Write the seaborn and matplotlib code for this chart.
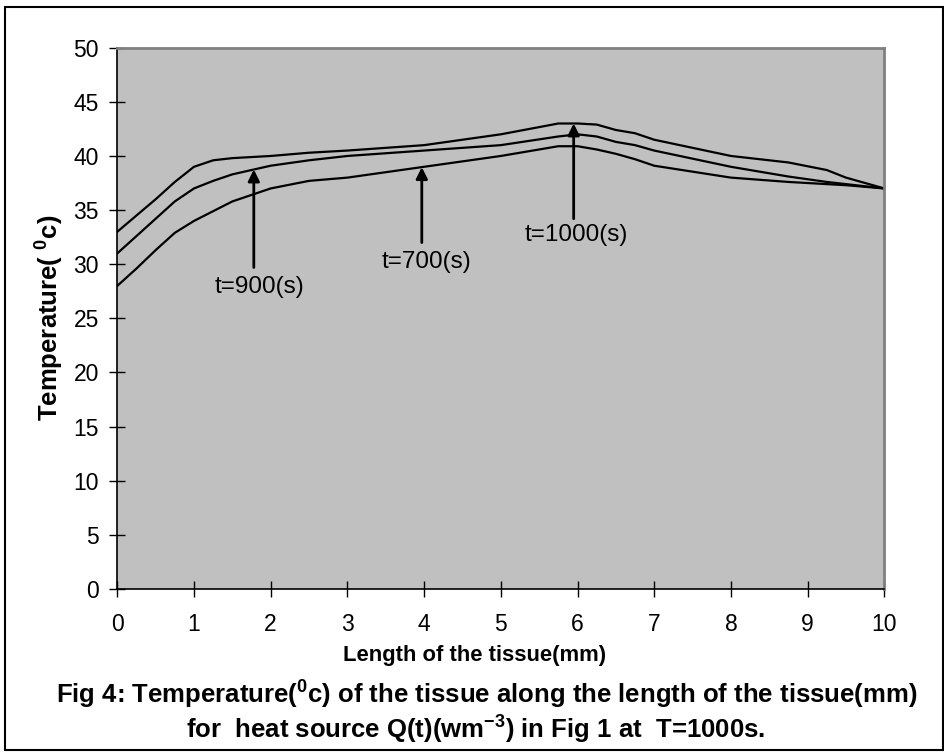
"""
Temperature of the tissue along its length for three times (Fig 4).
"""

import matplotlib

matplotlib.use("Agg")
import matplotlib.pyplot as plt
import numpy as np
import pandas as pd
import seaborn as sns
from matplotlib.patches import Rectangle

# Data
length_mm = [0, 0.25, 0.5, 0.75, 1, 1.25, 1.5, 2, 2.5, 3, 4, 5, 5.75, 6,
             6.25, 6.5, 6.75, 7, 8, 8.75, 9.25, 9.5, 10]
temp_1000s = [33.0, 34.5, 36.0, 37.6, 39.0, 39.6, 39.8, 40.0, 40.3, 40.5,
              41.0, 42.0, 43.0, 43.0, 42.9, 42.4, 42.1, 41.5, 40.0, 39.4,
              38.7, 38.0, 37.0]
temp_900s = [31.0, 32.6, 34.2, 35.8, 37.0, 37.7, 38.3, 39.1, 39.6, 40.0,
             40.5, 41.0, 41.8, 42.0, 41.8, 41.3, 41.0, 40.5, 39.0, 38.1,
             37.6, 37.4, 37.0]
temp_700s = [28.0, 29.6, 31.3, 32.9, 34.0, 34.9, 35.8, 37.0, 37.7, 38.0,
             39.0, 40.0, 40.9, 40.9, 40.6, 40.2, 39.7, 39.1, 38.0, 37.6,
             37.4, 37.3, 37.0]

series = {"1000": temp_1000s, "900": temp_900s, "700": temp_700s}

# Arrow annotations: which curve each arrow points at
arrow_labels = ["t=900(s)", "t=700(s)", "t=1000(s)"]
arrow_series = ["900", "700", "1000"]
arrow_x = [1.78, 3.97, 5.95]

df = pd.concat(
    [pd.DataFrame({"length": length_mm, "temp": vals, "time": name})
     for name, vals in series.items()],
    ignore_index=True,
)

sns.set_style("white")
plt.rcParams["font.family"] = ["Liberation Sans", "DejaVu Sans"]
plt.rcParams["mathtext.fontset"] = "custom"
plt.rcParams["mathtext.rm"] = "Liberation Sans"
plt.rcParams["mathtext.bf"] = "Liberation Sans:bold"
plt.rcParams["mathtext.default"] = "bf"
for key in ["text.color", "axes.labelcolor", "xtick.color", "ytick.color"]:
    plt.rcParams[key] = "black"

fig = plt.figure(figsize=(9.45, 7.55), dpi=100)
ax = fig.add_axes([0.1241, 0.2199, 0.8117, 0.7169])
ax.set_facecolor("#c0c0c0")

sns.lineplot(
    data=df, x="length", y="temp", units="time", estimator=None,
    sort=False, color="black", linewidth=1.6, ax=ax,
)

ax.set_xlim(0, 10)
ax.set_ylim(0, 50)
ax.set_xticks(range(0, 11))
ax.set_yticks(range(0, 51, 5))
ax.tick_params(axis="both", direction="inout", length=11.5, width=1,
               color="black", labelcolor="black", labelsize=16.5,
               bottom=True, left=True)
ax.tick_params(axis="x", pad=11.5)
ax.tick_params(axis="y", pad=7.5)

for side in ["left", "bottom"]:
    ax.spines[side].set_color("black")
    ax.spines[side].set_linewidth(1.2)
for side in ["top", "right"]:
    ax.spines[side].set_color("#808080")
    ax.spines[side].set_linewidth(2)

ax.set_xlabel("Length of the tissue(mm)", fontsize=15.8, fontweight="bold",
              va="center")
ax.xaxis.set_label_coords(0.466, -0.122)
ax.set_ylabel("Temperature( $^{0}$c)", fontsize=18.5, fontweight="bold",
              va="center")
ax.yaxis.set_label_coords(-0.088, 0.5)

# Arrows pointing at the curves
tail_y = [29.7, 32.0, 34.2]
text_xy = [(1.85, 27.9), (4.03, 30.25), (5.99, 32.7)]
for label, name, x, ty, (tx, tty) in zip(arrow_labels, arrow_series, arrow_x,
                                         tail_y, text_xy):
    tip = np.interp(x, length_mm, series[name])
    ax.annotate("", xy=(x, tip), xytext=(x, ty),
                arrowprops=dict(arrowstyle="-|>", color="black", lw=2,
                                mutation_scale=17, shrinkA=0, shrinkB=0))
    ax.text(tx, tty, label, ha="center", va="center", fontsize=17.5)

fig.text(0.515, 0.0795,
         "Fig 4: Temperature($^{0}$c) of the tissue along the length of the tissue(mm)",
         ha="center", va="center", fontsize=18.5, fontweight="bold")
fig.text(0.503, 0.0335,
         "for  heat source Q(t)(wm$^{-3}$) in Fig 1 at  T=1000s.",
         ha="center", va="center", fontsize=18.5, fontweight="bold")

fig.patches.append(Rectangle((0.0048, 0.0066), 0.9931, 0.984,
                             transform=fig.transFigure, fill=False,
                             edgecolor="black", linewidth=1.5))

fig.savefig("out.png", dpi=100)
plt.close(fig)
